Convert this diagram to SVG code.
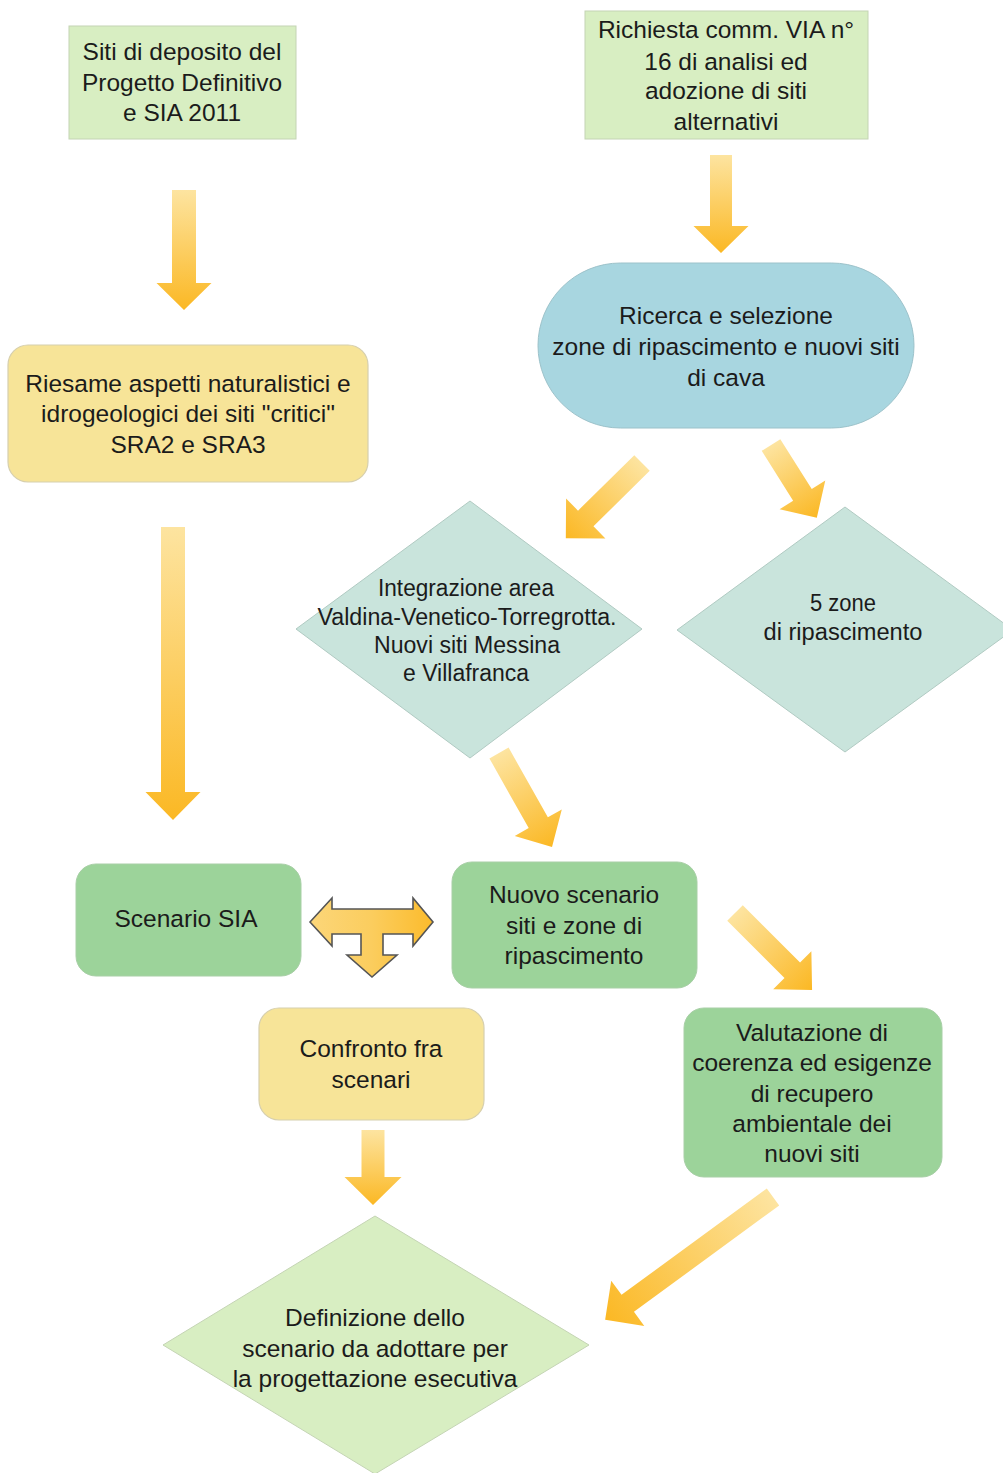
<svg xmlns="http://www.w3.org/2000/svg" width="1003" height="1473" viewBox="0 0 1003 1473">
<defs>
<linearGradient id="ag" x1="0" y1="0" x2="1" y2="0">
<stop offset="0" stop-color="#fde4a0"/>
<stop offset="1" stop-color="#fbb824"/>
</linearGradient>
<linearGradient id="tg" x1="0" y1="0" x2="1" y2="0">
<stop offset="0" stop-color="#fcd679"/>
<stop offset="0.5" stop-color="#fbcd5e"/>
<stop offset="1" stop-color="#fbbb2c"/>
</linearGradient>
<style>
text{font-family:"Liberation Sans",Arial,sans-serif;fill:#1b1b1b;text-anchor:middle}
.t25{font-size:24.5px}
.t21{font-size:23px}
.lg{fill:#d8eec2;stroke:#c4d4b4;stroke-width:1}
.bl{fill:#a8d6e0;stroke:#9cc2ca;stroke-width:1}
.ye{fill:#f7e498;stroke:#d6cfae;stroke-width:1.2}
.gr{fill:#9cd39a;stroke:#a8cfa6;stroke-width:1}
.dm{fill:#c9e4dc;stroke:#b0cac2;stroke-width:1}
.arr{fill:url(#ag)}
</style>
</defs>
<g id="connectors">
<polygon class="arr" transform="translate(184,190) rotate(90)" points="0,-12 93,-12 93,-27.5 120,0 93,27.5 93,12 0,12"/>
<polygon class="arr" transform="translate(721,155) rotate(90)" points="0,-11 71,-11 71,-27.5 98,0 71,27.5 71,11 0,11"/>
<polygon class="arr" transform="translate(173,527) rotate(90)" points="0,-12 265,-12 265,-27.5 293,0 265,27.5 265,12 0,12"/>
<polygon class="arr" transform="translate(642,463) rotate(135.4)" points="0,-11 79,-11 79,-28 107,0 79,28 79,11 0,11"/>
<polygon class="arr" transform="translate(771,445) rotate(57.8)" points="0,-11 59,-11 59,-27 86,0 59,27 59,11 0,11"/>
<polygon class="arr" transform="translate(499,753) rotate(60.6)" points="0,-11 80,-11 80,-27 108,0 80,27 80,11 0,11"/>
<polygon class="arr" transform="translate(773,1197) rotate(143.8)" points="0,-10.5 180,-10.5 180,-28 208,0 180,28 180,10.5 0,10.5"/>
<polygon class="arr" transform="translate(735,913) rotate(45)" points="0,-11 81,-11 81,-27 109,0 81,27 81,11 0,11"/>
<polygon class="arr" transform="translate(373,1130) rotate(90)" points="0,-11.5 47,-11.5 47,-28.5 75,0 47,28.5 47,11.5 0,11.5"/>
<polygon fill="url(#tg)" stroke="#555" stroke-width="1.6" stroke-linejoin="miter" points="310,922 332,898 332,909 413,909 413,898 433,922 413,946 413,934 383,934 383,955 397,955 372,977 347,955 361,955 361,934 332,934 332,946"/>
</g>
<g id="n1">
<rect class="lg" x="69" y="26" width="227" height="113"/>
<text class="t25" x="182" y="60">Siti di deposito del</text>
<text class="t25" x="182" y="91">Progetto Definitivo</text>
<text class="t25" x="182" y="121">e SIA 2011</text>
</g>
<g id="n2">
<rect class="lg" x="585" y="11" width="283" height="128"/>
<text class="t25" x="726" y="38">Richiesta comm. VIA n°</text>
<text class="t25" x="726" y="70">16 di analisi ed</text>
<text class="t25" x="726" y="99">adozione di siti</text>
<text class="t25" x="726" y="130">alternativi</text>
</g>
<g id="n3">
<rect class="bl" x="538" y="263" width="376" height="165" rx="82.5" ry="82.5"/>
<text class="t25" x="726" y="324">Ricerca e selezione</text>
<text class="t25" x="726" y="355">zone di ripascimento e nuovi siti</text>
<text class="t25" x="726" y="386">di cava</text>
</g>
<g id="n4">
<rect class="ye" x="8" y="345" width="360" height="137" rx="20" ry="20"/>
<text class="t25" x="188" y="392">Riesame aspetti naturalistici e</text>
<text class="t25" x="188" y="422">idrogeologici dei siti "critici"</text>
<text class="t25" x="188" y="453">SRA2 e SRA3</text>
</g>
<g id="n5">
<polygon class="dm" points="470,501 642,629 470,758 296,629"/>
<text class="t21" x="466" y="596" textLength="176" lengthAdjust="spacingAndGlyphs">Integrazione area</text>
<text class="t21" x="467" y="625" textLength="299" lengthAdjust="spacingAndGlyphs">Valdina-Venetico-Torregrotta.</text>
<text class="t21" x="467" y="653" textLength="186" lengthAdjust="spacingAndGlyphs">Nuovi siti Messina</text>
<text class="t21" x="466" y="681" textLength="126" lengthAdjust="spacingAndGlyphs">e Villafranca</text>
</g>
<g id="n6">
<polygon class="dm" points="845,507 1013,630 845,752 677,630"/>
<text class="t21" x="843" y="611" textLength="66" lengthAdjust="spacingAndGlyphs">5 zone</text>
<text class="t21" x="843" y="640" textLength="159" lengthAdjust="spacingAndGlyphs">di ripascimento</text>
</g>
<g id="n7">
<rect class="gr" x="76" y="864" width="225" height="112" rx="20" ry="20"/>
<text class="t25" x="186" y="927">Scenario SIA</text>
</g>
<g id="n8">
<rect class="gr" x="452" y="862" width="245" height="126" rx="20" ry="20"/>
<text class="t25" x="574" y="903">Nuovo scenario</text>
<text class="t25" x="574" y="934">siti e zone di</text>
<text class="t25" x="574" y="964">ripascimento</text>
</g>
<g id="n9">
<rect class="ye" x="259" y="1008" width="225" height="112" rx="20" ry="20"/>
<text class="t25" x="371" y="1057">Confronto fra</text>
<text class="t25" x="371" y="1088">scenari</text>
</g>
<g id="n10">
<rect class="gr" x="684" y="1008" width="258" height="169" rx="20" ry="20"/>
<text class="t25" x="812" y="1041">Valutazione di</text>
<text class="t25" x="812" y="1071">coerenza ed esigenze</text>
<text class="t25" x="812" y="1102">di recupero</text>
<text class="t25" x="812" y="1132">ambientale dei</text>
<text class="t25" x="812" y="1162">nuovi siti</text>
</g>
<g id="n11">
<polygon class="lg" points="375,1216 589,1345 375,1474 163,1345"/>
<text class="t25" x="375" y="1326">Definizione dello</text>
<text class="t25" x="375" y="1357">scenario da adottare per</text>
<text class="t25" x="375" y="1387">la progettazione esecutiva</text>
</g>
</svg>
